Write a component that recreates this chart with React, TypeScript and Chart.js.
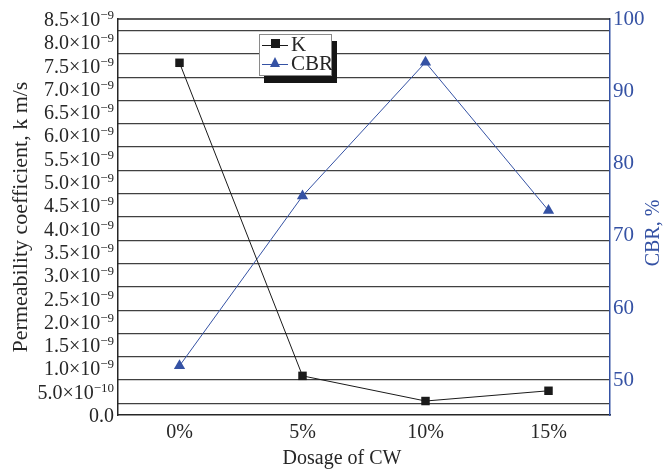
import { useEffect, useRef } from "react";
import { Chart, registerables } from "chart.js";

Chart.register(...registerables);

const dosages = ["0%", "5%", "10%", "15%"];
const permeability = [7.56e-9, 0.84e-9, 0.3e-9, 0.52e-9];
const cbr = [52.0, 75.5, 94.0, 73.5];

const kTicks = [
  0, 0.5e-9, 1.0e-9, 1.5e-9, 2.0e-9, 2.5e-9, 3.0e-9, 3.5e-9, 4.0e-9,
  4.5e-9, 5.0e-9, 5.5e-9, 6.0e-9, 6.5e-9, 7.0e-9, 7.5e-9, 8.0e-9, 8.5e-9,
];
// mantissa and exponent of each K tick label
const kTickBase = [
  "0.0", "5.0×10", "1.0×10", "1.5×10", "2.0×10", "2.5×10", "3.0×10", "3.5×10", "4.0×10",
  "4.5×10", "5.0×10", "5.5×10", "6.0×10", "6.5×10", "7.0×10", "7.5×10", "8.0×10", "8.5×10",
];
const kTickExp = [
  "", "−10", "−9", "−9", "−9", "−9", "−9", "−9", "−9",
  "−9", "−9", "−9", "−9", "−9", "−9", "−9", "−9", "−9",
];
// horizontal rules sit half way between the K ticks
const gridLevels = [
  0.25e-9, 0.75e-9, 1.25e-9, 1.75e-9, 2.25e-9, 2.75e-9, 3.25e-9, 3.75e-9,
  4.25e-9, 4.75e-9, 5.25e-9, 5.75e-9, 6.25e-9, 6.75e-9, 7.25e-9, 7.75e-9, 8.25e-9,
];
const cbrTicks = [50, 60, 70, 80, 90, 100];

const FONT = "'Liberation Serif', 'Times New Roman', serif";
const INK = "#262626";
const BLUE = "#3552a4";

const extras = {
  id: "extras",
  afterDraw(chart: Chart) {
    const { ctx, chartArea } = chart;
    const yScale: any = chart.scales.y;
    ctx.save();
    // top edge of the frame
    ctx.strokeStyle = INK;
    ctx.lineWidth = 1.5;
    ctx.beginPath();
    ctx.moveTo(chartArea.left, chartArea.top);
    ctx.lineTo(chartArea.right, chartArea.top);
    ctx.stroke();

    // K tick labels with raised exponents
    ctx.fillStyle = INK;
    ctx.textBaseline = "alphabetic";
    ctx.textAlign = "left";
    const right = yScale.right - 4;
    kTicks.forEach((v, i) => {
      const y = yScale.getPixelForValue(v) + 7;
      ctx.font = `13px ${FONT}`;
      const ew = kTickExp[i] ? ctx.measureText(kTickExp[i]).width : 0;
      ctx.font = `20px ${FONT}`;
      const bw = ctx.measureText(kTickBase[i]).width;
      ctx.fillText(kTickBase[i], right - ew - bw, y);
      if (kTickExp[i]) {
        ctx.font = `13px ${FONT}`;
        ctx.fillText(kTickExp[i], right - ew, y - 7);
      }
    });

    ctx.font = `20px ${FONT}`;
    ctx.textAlign = "center";
    ctx.textBaseline = "middle";

    // x title
    ctx.fillText("Dosage of CW", 342, 459);

    // right title, reading bottom to top
    ctx.fillStyle = BLUE;
    ctx.translate(chart.width - 10, (chartArea.top + chartArea.bottom) / 2 + 16);
    ctx.rotate(-Math.PI / 2);
    ctx.fillText("CBR, %", 0, 0);
    ctx.restore();
  },
};

function Legend() {
  const row = (color: string, marker: JSX.Element, label: string, top: number) => (
    <div style={{ position: "absolute", left: 2, top, height: 20, width: 70 }}>
      <div style={{ position: "absolute", left: 0, top: 10, width: 26, height: 1, background: color }} />
      <div style={{ position: "absolute", left: 8, top: 4 }}>{marker}</div>
      <div style={{ position: "absolute", left: 29, top: -2, font: `21px ${FONT}`, color: INK, lineHeight: "22px" }}>
        {label}
      </div>
    </div>
  );
  return (
    <div
      style={{
        position: "absolute",
        left: 259,
        top: 34,
        width: 71,
        height: 40,
        background: "#fff",
        border: "1px solid #8a8a8a",
        boxShadow: "5px 7px 0 #151515",
      }}
    >
      {row("#1a1a1a", <div style={{ width: 9, height: 9, background: "#1a1a1a", marginLeft: 1 }} />, "K", 0)}
      {row(
        BLUE,
        <div
          style={{
            width: 0,
            height: 0,
            borderLeft: "5.5px solid transparent",
            borderRight: "5.5px solid transparent",
            borderBottom: `10px solid ${BLUE}`,
            marginTop: -1,
          }}
        />,
        "CBR",
        19
      )}
    </div>
  );
}

export default function App() {
  const canvasRef = useRef<HTMLCanvasElement>(null);

  useEffect(() => {
    if (!canvasRef.current) return;
    const chart = new Chart(canvasRef.current, {
      type: "line",
      data: {
        labels: dosages,
        datasets: [
          {
            label: "K",
            data: permeability,
            yAxisID: "y",
            borderColor: "#1a1a1a",
            backgroundColor: "#1a1a1a",
            borderWidth: 1,
            pointStyle: "rect",
            pointRadius: 6,
            pointBorderWidth: 0,
            tension: 0,
          },
          {
            label: "CBR",
            data: cbr,
            yAxisID: "y1",
            borderColor: BLUE,
            backgroundColor: BLUE,
            borderWidth: 1,
            pointStyle: "triangle",
            pointRadius: 6.5,
            pointBorderWidth: 0,
            tension: 0,
          },
        ],
      },
      options: {
        animation: false,
        responsive: true,
        maintainAspectRatio: false,
        layout: { padding: { top: 19, left: 0, right: 0, bottom: 0 } },
        plugins: {
          legend: { display: false },
          tooltip: { enabled: false },
        },
        scales: {
          x: {
            type: "category",
            offset: true,
            grid: { display: false, drawTicks: false },
            border: { display: true, color: INK, width: 1.5 },
            ticks: { color: INK, font: { family: FONT, size: 20 }, padding: 6 },
            afterFit: (scale: any) => {
              scale.height = 57;
            },
          },
          y: {
            type: "linear",
            position: "left",
            min: 0,
            max: 8.5e-9,
            afterBuildTicks: (scale: any) => {
              scale.ticks = kTicks.map((value) => ({ value }));
            },
            ticks: {
              // labels are drawn by the extras plugin
              color: "rgba(0,0,0,0)",
              font: { family: FONT, size: 20 },
              autoSkip: false,
              callback: () => "",
            },
            grid: { display: false, drawTicks: false },
            border: { display: true, color: INK, width: 1.5 },
            title: {
              display: true,
              text: "Permeability coefficient, k m/s",
              color: INK,
              font: { family: FONT, size: 22 },
              padding: { top: 8, bottom: 0 },
            },
            afterFit: (scale: any) => {
              scale.width = 118;
            },
          },
          yGrid: {
            type: "linear",
            position: "left",
            min: 0,
            max: 8.5e-9,
            afterBuildTicks: (scale: any) => {
              scale.ticks = gridLevels.map((value) => ({ value }));
            },
            ticks: { display: false, autoSkip: false },
            grid: { color: "#404040", lineWidth: 1.3, drawTicks: false },
            border: { display: false },
            afterFit: (scale: any) => {
              scale.width = 0;
            },
          },
          y1: {
            type: "linear",
            position: "right",
            min: 45.2,
            max: 100,
            afterBuildTicks: (scale: any) => {
              scale.ticks = cbrTicks.map((value) => ({ value }));
            },
            ticks: {
              color: BLUE,
              font: { family: FONT, size: 21 },
              padding: 3,
              autoSkip: false,
            },
            grid: { display: false, drawTicks: false },
            border: { display: true, color: BLUE, width: 1.5 },
            afterFit: (scale: any) => {
              scale.width = 54;
            },
          },
        },
      },
      plugins: [extras],
    });
    return () => chart.destroy();
  }, []);

  return (
    <div style={{ position: "absolute", left: 0, top: 0, width: 664, height: 472, background: "#fff" }}>
      <canvas ref={canvasRef} />
      <Legend />
    </div>
  );
}
